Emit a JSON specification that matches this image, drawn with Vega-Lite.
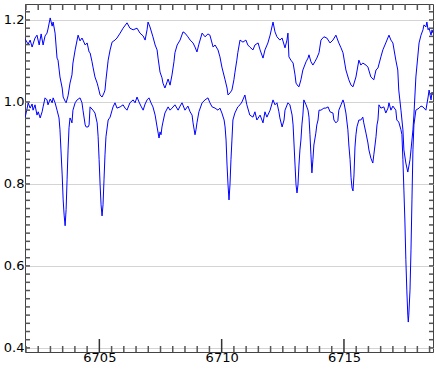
{
  "$schema": "https://vega.github.io/schema/vega-lite/v6.json",
  "width": 408,
  "height": 348,
  "autosize": {"type": "none"},
  "padding": {"left": 25, "top": 4, "right": 3, "bottom": 17},
  "background": "white",
  "config": {
    "view": {"stroke": "#444444", "strokeWidth": 1},
    "axis": {"labelFont": "DejaVu Sans", "labelFontSize": 13, "labelColor": "#000000", "domain": false, "title": null, "ticks": false, "labelFlush": false, "labelOverlap": false}
  },
  "datasets": {
    "xt": [
      {"wl": 6702, "kind": "minor"}, {"wl": 6702.5, "kind": "minor"}, {"wl": 6703, "kind": "minor"}, {"wl": 6703.5, "kind": "minor"},
      {"wl": 6704, "kind": "minor"}, {"wl": 6704.5, "kind": "minor"}, {"wl": 6705, "kind": "major"}, {"wl": 6705.5, "kind": "minor"},
      {"wl": 6706, "kind": "minor"}, {"wl": 6706.5, "kind": "minor"}, {"wl": 6707, "kind": "minor"}, {"wl": 6707.5, "kind": "minor"},
      {"wl": 6708, "kind": "minor"}, {"wl": 6708.5, "kind": "minor"}, {"wl": 6709, "kind": "minor"}, {"wl": 6709.5, "kind": "minor"},
      {"wl": 6710, "kind": "major"}, {"wl": 6710.5, "kind": "minor"}, {"wl": 6711, "kind": "minor"}, {"wl": 6711.5, "kind": "minor"},
      {"wl": 6712, "kind": "minor"}, {"wl": 6712.5, "kind": "minor"}, {"wl": 6713, "kind": "minor"}, {"wl": 6713.5, "kind": "minor"},
      {"wl": 6714, "kind": "minor"}, {"wl": 6714.5, "kind": "minor"}, {"wl": 6715, "kind": "major"}, {"wl": 6715.5, "kind": "minor"},
      {"wl": 6716, "kind": "minor"}, {"wl": 6716.5, "kind": "minor"}, {"wl": 6717, "kind": "minor"}, {"wl": 6717.5, "kind": "minor"},
      {"wl": 6718, "kind": "minor"}, {"wl": 6718.5, "kind": "minor"}
    ],
    "yt": [
      {"flux": 0.4}, {"flux": 0.42}, {"flux": 0.44}, {"flux": 0.46}, {"flux": 0.48}, {"flux": 0.5}, {"flux": 0.52}, {"flux": 0.54},
      {"flux": 0.56}, {"flux": 0.58}, {"flux": 0.6}, {"flux": 0.62}, {"flux": 0.64}, {"flux": 0.66}, {"flux": 0.68}, {"flux": 0.7},
      {"flux": 0.72}, {"flux": 0.74}, {"flux": 0.76}, {"flux": 0.78}, {"flux": 0.8}, {"flux": 0.82}, {"flux": 0.84}, {"flux": 0.86},
      {"flux": 0.88}, {"flux": 0.9}, {"flux": 0.92}, {"flux": 0.94}, {"flux": 0.96}, {"flux": 0.98}, {"flux": 1.0}, {"flux": 1.02},
      {"flux": 1.04}, {"flux": 1.06}, {"flux": 1.08}, {"flux": 1.1}, {"flux": 1.12}, {"flux": 1.14}, {"flux": 1.16}, {"flux": 1.18},
      {"flux": 1.2}, {"flux": 1.22}
    ],
    "upper": [
      {"wl": 6701.96, "flux": 1.154}, {"wl": 6702.09, "flux": 1.141}, {"wl": 6702.17, "flux": 1.151}, {"wl": 6702.25, "flux": 1.134},
      {"wl": 6702.37, "flux": 1.156}, {"wl": 6702.45, "flux": 1.163}, {"wl": 6702.54, "flux": 1.139}, {"wl": 6702.62, "flux": 1.166},
      {"wl": 6702.70, "flux": 1.139}, {"wl": 6702.78, "flux": 1.161}, {"wl": 6702.86, "flux": 1.168}, {"wl": 6702.90, "flux": 1.178},
      {"wl": 6702.99, "flux": 1.205}, {"wl": 6703.07, "flux": 1.185}, {"wl": 6703.11, "flux": 1.195}, {"wl": 6703.19, "flux": 1.168},
      {"wl": 6703.27, "flux": 1.107}, {"wl": 6703.31, "flux": 1.102}, {"wl": 6703.39, "flux": 1.061}, {"wl": 6703.48, "flux": 1.034},
      {"wl": 6703.52, "flux": 1.012}, {"wl": 6703.60, "flux": 1.002}, {"wl": 6703.64, "flux": 0.998}, {"wl": 6703.72, "flux": 1.015},
      {"wl": 6703.80, "flux": 1.046}, {"wl": 6703.88, "flux": 1.066}, {"wl": 6703.92, "flux": 1.095}, {"wl": 6704.01, "flux": 1.127},
      {"wl": 6704.09, "flux": 1.151}, {"wl": 6704.13, "flux": 1.163}, {"wl": 6704.21, "flux": 1.149}, {"wl": 6704.29, "flux": 1.156},
      {"wl": 6704.33, "flux": 1.151}, {"wl": 6704.42, "flux": 1.139}, {"wl": 6704.50, "flux": 1.144}, {"wl": 6704.58, "flux": 1.122},
      {"wl": 6704.62, "flux": 1.120}, {"wl": 6704.70, "flux": 1.098}, {"wl": 6704.74, "flux": 1.085}, {"wl": 6704.82, "flux": 1.061},
      {"wl": 6704.91, "flux": 1.046}, {"wl": 6704.95, "flux": 1.037}, {"wl": 6705.03, "flux": 1.017}, {"wl": 6705.11, "flux": 1.012},
      {"wl": 6705.19, "flux": 1.022}, {"wl": 6705.23, "flux": 1.029}, {"wl": 6705.27, "flux": 1.054}, {"wl": 6705.36, "flux": 1.102},
      {"wl": 6705.44, "flux": 1.127}, {"wl": 6705.52, "flux": 1.146}, {"wl": 6705.64, "flux": 1.151}, {"wl": 6705.72, "flux": 1.156},
      {"wl": 6705.85, "flux": 1.168}, {"wl": 6705.97, "flux": 1.180}, {"wl": 6706.13, "flux": 1.193}, {"wl": 6706.25, "flux": 1.180},
      {"wl": 6706.38, "flux": 1.176}, {"wl": 6706.54, "flux": 1.180}, {"wl": 6706.66, "flux": 1.168}, {"wl": 6706.79, "flux": 1.161},
      {"wl": 6706.87, "flux": 1.151}, {"wl": 6706.95, "flux": 1.176}, {"wl": 6706.99, "flux": 1.195}, {"wl": 6707.07, "flux": 1.183},
      {"wl": 6707.19, "flux": 1.159}, {"wl": 6707.28, "flux": 1.139}, {"wl": 6707.36, "flux": 1.127}, {"wl": 6707.40, "flux": 1.107},
      {"wl": 6707.48, "flux": 1.073}, {"wl": 6707.56, "flux": 1.059}, {"wl": 6707.60, "flux": 1.046}, {"wl": 6707.68, "flux": 1.034},
      {"wl": 6707.77, "flux": 1.049}, {"wl": 6707.81, "flux": 1.056}, {"wl": 6707.89, "flux": 1.041}, {"wl": 6707.97, "flux": 1.066},
      {"wl": 6708.05, "flux": 1.098}, {"wl": 6708.09, "flux": 1.120}, {"wl": 6708.18, "flux": 1.139}, {"wl": 6708.30, "flux": 1.151},
      {"wl": 6708.42, "flux": 1.171}, {"wl": 6708.50, "flux": 1.168}, {"wl": 6708.62, "flux": 1.159}, {"wl": 6708.71, "flux": 1.151},
      {"wl": 6708.83, "flux": 1.144}, {"wl": 6708.91, "flux": 1.134}, {"wl": 6708.99, "flux": 1.122}, {"wl": 6709.07, "flux": 1.141},
      {"wl": 6709.20, "flux": 1.168}, {"wl": 6709.32, "flux": 1.159}, {"wl": 6709.44, "flux": 1.166}, {"wl": 6709.52, "flux": 1.163},
      {"wl": 6709.65, "flux": 1.134}, {"wl": 6709.73, "flux": 1.139}, {"wl": 6709.85, "flux": 1.127}, {"wl": 6709.93, "flux": 1.110},
      {"wl": 6710.01, "flux": 1.085}, {"wl": 6710.14, "flux": 1.054}, {"wl": 6710.22, "flux": 1.034}, {"wl": 6710.26, "flux": 1.017},
      {"wl": 6710.34, "flux": 1.022}, {"wl": 6710.42, "flux": 1.029}, {"wl": 6710.50, "flux": 1.054}, {"wl": 6710.54, "flux": 1.071},
      {"wl": 6710.62, "flux": 1.102}, {"wl": 6710.66, "flux": 1.120}, {"wl": 6710.75, "flux": 1.151}, {"wl": 6710.87, "flux": 1.146},
      {"wl": 6710.99, "flux": 1.151}, {"wl": 6711.07, "flux": 1.139}, {"wl": 6711.15, "flux": 1.134}, {"wl": 6711.28, "flux": 1.127},
      {"wl": 6711.36, "flux": 1.139}, {"wl": 6711.49, "flux": 1.144}, {"wl": 6711.57, "flux": 1.127}, {"wl": 6711.69, "flux": 1.107},
      {"wl": 6711.77, "flux": 1.127}, {"wl": 6711.89, "flux": 1.144}, {"wl": 6711.98, "flux": 1.163}, {"wl": 6712.10, "flux": 1.195},
      {"wl": 6712.18, "flux": 1.171}, {"wl": 6712.26, "flux": 1.159}, {"wl": 6712.38, "flux": 1.151}, {"wl": 6712.47, "flux": 1.156},
      {"wl": 6712.59, "flux": 1.132}, {"wl": 6712.67, "flux": 1.151}, {"wl": 6712.71, "flux": 1.168}, {"wl": 6712.75, "flux": 1.110},
      {"wl": 6712.83, "flux": 1.102}, {"wl": 6712.92, "flux": 1.095}, {"wl": 6713.00, "flux": 1.066}, {"wl": 6713.04, "flux": 1.046},
      {"wl": 6713.12, "flux": 1.039}, {"wl": 6713.16, "flux": 1.037}, {"wl": 6713.24, "flux": 1.054}, {"wl": 6713.32, "flux": 1.078},
      {"wl": 6713.45, "flux": 1.098}, {"wl": 6713.53, "flux": 1.107}, {"wl": 6713.57, "flux": 1.115}, {"wl": 6713.65, "flux": 1.098},
      {"wl": 6713.73, "flux": 1.090}, {"wl": 6713.81, "flux": 1.098}, {"wl": 6713.89, "flux": 1.107}, {"wl": 6713.98, "flux": 1.120},
      {"wl": 6714.06, "flux": 1.151}, {"wl": 6714.18, "flux": 1.159}, {"wl": 6714.30, "flux": 1.156}, {"wl": 6714.43, "flux": 1.144},
      {"wl": 6714.55, "flux": 1.151}, {"wl": 6714.67, "flux": 1.163}, {"wl": 6714.79, "flux": 1.144}, {"wl": 6714.88, "flux": 1.132},
      {"wl": 6714.96, "flux": 1.120}, {"wl": 6715.08, "flux": 1.078}, {"wl": 6715.20, "flux": 1.054}, {"wl": 6715.29, "flux": 1.041},
      {"wl": 6715.37, "flux": 1.037}, {"wl": 6715.49, "flux": 1.061}, {"wl": 6715.61, "flux": 1.102}, {"wl": 6715.69, "flux": 1.090},
      {"wl": 6715.77, "flux": 1.095}, {"wl": 6715.90, "flux": 1.090}, {"wl": 6715.98, "flux": 1.085}, {"wl": 6716.10, "flux": 1.061},
      {"wl": 6716.22, "flux": 1.054}, {"wl": 6716.31, "flux": 1.078}, {"wl": 6716.39, "flux": 1.083}, {"wl": 6716.51, "flux": 1.110},
      {"wl": 6716.59, "flux": 1.127}, {"wl": 6716.71, "flux": 1.144}, {"wl": 6716.84, "flux": 1.163}, {"wl": 6716.92, "flux": 1.151},
      {"wl": 6717.00, "flux": 1.144}, {"wl": 6717.12, "flux": 1.102}, {"wl": 6717.20, "flux": 1.078}, {"wl": 6717.24, "flux": 1.029},
      {"wl": 6717.33, "flux": 0.980}, {"wl": 6717.41, "flux": 0.932}, {"wl": 6717.45, "flux": 0.883}, {"wl": 6717.53, "flux": 0.851},
      {"wl": 6717.61, "flux": 0.829}, {"wl": 6717.70, "flux": 0.859}, {"wl": 6717.74, "flux": 0.883}, {"wl": 6717.82, "flux": 0.932},
      {"wl": 6717.86, "flux": 0.968}, {"wl": 6717.94, "flux": 1.061}, {"wl": 6718.07, "flux": 1.144}, {"wl": 6718.15, "flux": 1.163},
      {"wl": 6718.23, "flux": 1.176}, {"wl": 6718.27, "flux": 1.188}, {"wl": 6718.35, "flux": 1.183}, {"wl": 6718.39, "flux": 1.195},
      {"wl": 6718.44, "flux": 1.176}, {"wl": 6718.48, "flux": 1.180}, {"wl": 6718.56, "flux": 1.163}, {"wl": 6718.60, "flux": 1.176},
      {"wl": 6718.64, "flux": 1.168}
    ],
    "lower": [
      {"wl": 6701.96, "flux": 0.961}, {"wl": 6702.05, "flux": 0.985}, {"wl": 6702.09, "flux": 0.998}, {"wl": 6702.17, "flux": 0.985},
      {"wl": 6702.25, "flux": 0.995}, {"wl": 6702.29, "flux": 0.980}, {"wl": 6702.37, "flux": 0.993}, {"wl": 6702.45, "flux": 0.968},
      {"wl": 6702.50, "flux": 0.976}, {"wl": 6702.58, "flux": 0.961}, {"wl": 6702.66, "flux": 0.976}, {"wl": 6702.70, "flux": 0.988},
      {"wl": 6702.78, "flux": 1.010}, {"wl": 6702.86, "flux": 1.005}, {"wl": 6702.90, "flux": 0.993}, {"wl": 6702.99, "flux": 1.007},
      {"wl": 6703.07, "flux": 0.998}, {"wl": 6703.11, "flux": 1.010}, {"wl": 6703.19, "flux": 0.998}, {"wl": 6703.27, "flux": 0.980},
      {"wl": 6703.35, "flux": 0.961}, {"wl": 6703.39, "flux": 0.932}, {"wl": 6703.43, "flux": 0.883}, {"wl": 6703.48, "flux": 0.822},
      {"wl": 6703.52, "flux": 0.761}, {"wl": 6703.56, "flux": 0.724}, {"wl": 6703.60, "flux": 0.698}, {"wl": 6703.64, "flux": 0.737},
      {"wl": 6703.68, "flux": 0.810}, {"wl": 6703.72, "flux": 0.883}, {"wl": 6703.76, "flux": 0.937}, {"wl": 6703.80, "flux": 0.961},
      {"wl": 6703.84, "flux": 0.956}, {"wl": 6703.88, "flux": 0.949}, {"wl": 6703.92, "flux": 0.980}, {"wl": 6704.01, "flux": 0.998},
      {"wl": 6704.09, "flux": 1.005}, {"wl": 6704.21, "flux": 1.010}, {"wl": 6704.29, "flux": 0.998}, {"wl": 6704.33, "flux": 0.980},
      {"wl": 6704.42, "flux": 0.944}, {"wl": 6704.46, "flux": 0.939}, {"wl": 6704.54, "flux": 0.939}, {"wl": 6704.58, "flux": 0.944},
      {"wl": 6704.62, "flux": 0.988}, {"wl": 6704.74, "flux": 0.980}, {"wl": 6704.82, "flux": 0.973}, {"wl": 6704.91, "flux": 0.949},
      {"wl": 6704.95, "flux": 0.915}, {"wl": 6704.99, "flux": 0.859}, {"wl": 6705.03, "flux": 0.798}, {"wl": 6705.07, "flux": 0.749},
      {"wl": 6705.11, "flux": 0.722}, {"wl": 6705.15, "flux": 0.749}, {"wl": 6705.19, "flux": 0.810}, {"wl": 6705.23, "flux": 0.871},
      {"wl": 6705.27, "flux": 0.915}, {"wl": 6705.36, "flux": 0.956}, {"wl": 6705.44, "flux": 0.963}, {"wl": 6705.52, "flux": 0.980},
      {"wl": 6705.56, "flux": 0.988}, {"wl": 6705.64, "flux": 0.998}, {"wl": 6705.72, "flux": 0.985}, {"wl": 6705.85, "flux": 0.988},
      {"wl": 6705.97, "flux": 0.993}, {"wl": 6706.05, "flux": 0.985}, {"wl": 6706.13, "flux": 0.980}, {"wl": 6706.25, "flux": 0.998},
      {"wl": 6706.38, "flux": 1.005}, {"wl": 6706.46, "flux": 0.998}, {"wl": 6706.54, "flux": 1.012}, {"wl": 6706.62, "flux": 1.000},
      {"wl": 6706.70, "flux": 0.990}, {"wl": 6706.79, "flux": 0.980}, {"wl": 6706.87, "flux": 0.995}, {"wl": 6706.95, "flux": 1.005},
      {"wl": 6707.03, "flux": 1.010}, {"wl": 6707.11, "flux": 0.998}, {"wl": 6707.19, "flux": 0.988}, {"wl": 6707.28, "flux": 0.968},
      {"wl": 6707.36, "flux": 0.939}, {"wl": 6707.44, "flux": 0.912}, {"wl": 6707.48, "flux": 0.927}, {"wl": 6707.52, "flux": 0.920},
      {"wl": 6707.56, "flux": 0.939}, {"wl": 6707.60, "flux": 0.951}, {"wl": 6707.68, "flux": 0.973}, {"wl": 6707.81, "flux": 0.988},
      {"wl": 6707.89, "flux": 0.980}, {"wl": 6707.97, "flux": 0.985}, {"wl": 6708.09, "flux": 0.993}, {"wl": 6708.22, "flux": 0.980},
      {"wl": 6708.30, "flux": 0.990}, {"wl": 6708.38, "flux": 0.998}, {"wl": 6708.50, "flux": 0.980}, {"wl": 6708.62, "flux": 0.990},
      {"wl": 6708.71, "flux": 0.976}, {"wl": 6708.79, "flux": 0.968}, {"wl": 6708.83, "flux": 0.949}, {"wl": 6708.91, "flux": 0.920},
      {"wl": 6708.95, "flux": 0.932}, {"wl": 6708.99, "flux": 0.949}, {"wl": 6709.07, "flux": 0.976}, {"wl": 6709.20, "flux": 0.998},
      {"wl": 6709.32, "flux": 1.005}, {"wl": 6709.44, "flux": 1.010}, {"wl": 6709.52, "flux": 0.998}, {"wl": 6709.61, "flux": 0.988},
      {"wl": 6709.73, "flux": 0.985}, {"wl": 6709.85, "flux": 0.980}, {"wl": 6709.93, "flux": 0.985}, {"wl": 6710.01, "flux": 0.973},
      {"wl": 6710.10, "flux": 0.956}, {"wl": 6710.14, "flux": 0.939}, {"wl": 6710.18, "flux": 0.907}, {"wl": 6710.22, "flux": 0.846},
      {"wl": 6710.26, "flux": 0.798}, {"wl": 6710.30, "flux": 0.761}, {"wl": 6710.34, "flux": 0.798}, {"wl": 6710.38, "flux": 0.859},
      {"wl": 6710.42, "flux": 0.907}, {"wl": 6710.46, "flux": 0.956}, {"wl": 6710.54, "flux": 0.973}, {"wl": 6710.66, "flux": 0.988},
      {"wl": 6710.75, "flux": 0.993}, {"wl": 6710.83, "flux": 1.000}, {"wl": 6710.95, "flux": 1.017}, {"wl": 6711.03, "flux": 0.993},
      {"wl": 6711.15, "flux": 0.968}, {"wl": 6711.28, "flux": 0.963}, {"wl": 6711.36, "flux": 0.976}, {"wl": 6711.44, "flux": 0.956},
      {"wl": 6711.57, "flux": 0.968}, {"wl": 6711.69, "flux": 0.949}, {"wl": 6711.77, "flux": 0.976}, {"wl": 6711.85, "flux": 0.963},
      {"wl": 6711.98, "flux": 0.980}, {"wl": 6712.10, "flux": 1.005}, {"wl": 6712.18, "flux": 0.993}, {"wl": 6712.26, "flux": 0.998},
      {"wl": 6712.34, "flux": 0.976}, {"wl": 6712.38, "flux": 0.961}, {"wl": 6712.47, "flux": 0.939}, {"wl": 6712.55, "flux": 0.956},
      {"wl": 6712.59, "flux": 0.980}, {"wl": 6712.71, "flux": 0.998}, {"wl": 6712.79, "flux": 0.993}, {"wl": 6712.88, "flux": 0.968},
      {"wl": 6712.92, "flux": 0.944}, {"wl": 6712.96, "flux": 0.895}, {"wl": 6713.00, "flux": 0.846}, {"wl": 6713.04, "flux": 0.798},
      {"wl": 6713.08, "flux": 0.778}, {"wl": 6713.12, "flux": 0.798}, {"wl": 6713.16, "flux": 0.846}, {"wl": 6713.20, "flux": 0.883},
      {"wl": 6713.24, "flux": 0.907}, {"wl": 6713.28, "flux": 0.944}, {"wl": 6713.32, "flux": 0.968}, {"wl": 6713.36, "flux": 1.005},
      {"wl": 6713.45, "flux": 0.993}, {"wl": 6713.53, "flux": 0.980}, {"wl": 6713.57, "flux": 0.963}, {"wl": 6713.61, "flux": 0.920},
      {"wl": 6713.65, "flux": 0.871}, {"wl": 6713.69, "flux": 0.827}, {"wl": 6713.73, "flux": 0.859}, {"wl": 6713.77, "flux": 0.895},
      {"wl": 6713.85, "flux": 0.924}, {"wl": 6713.89, "flux": 0.944}, {"wl": 6713.94, "flux": 0.956}, {"wl": 6713.98, "flux": 0.980},
      {"wl": 6714.06, "flux": 0.980}, {"wl": 6714.18, "flux": 0.985}, {"wl": 6714.26, "flux": 0.985}, {"wl": 6714.35, "flux": 0.988},
      {"wl": 6714.43, "flux": 0.976}, {"wl": 6714.55, "flux": 0.973}, {"wl": 6714.59, "flux": 0.956}, {"wl": 6714.67, "flux": 0.949},
      {"wl": 6714.75, "flux": 0.954}, {"wl": 6714.79, "flux": 0.980}, {"wl": 6714.88, "flux": 0.993}, {"wl": 6714.96, "flux": 1.005},
      {"wl": 6715.00, "flux": 0.998}, {"wl": 6715.08, "flux": 0.973}, {"wl": 6715.16, "flux": 0.932}, {"wl": 6715.20, "flux": 0.895},
      {"wl": 6715.25, "flux": 0.859}, {"wl": 6715.29, "flux": 0.815}, {"wl": 6715.33, "flux": 0.790}, {"wl": 6715.37, "flux": 0.783},
      {"wl": 6715.41, "flux": 0.822}, {"wl": 6715.45, "flux": 0.890}, {"wl": 6715.49, "flux": 0.920}, {"wl": 6715.53, "flux": 0.939},
      {"wl": 6715.61, "flux": 0.956}, {"wl": 6715.69, "flux": 0.956}, {"wl": 6715.77, "flux": 0.963}, {"wl": 6715.81, "flux": 0.949},
      {"wl": 6715.90, "flux": 0.924}, {"wl": 6715.98, "flux": 0.900}, {"wl": 6716.02, "flux": 0.883}, {"wl": 6716.10, "flux": 0.863},
      {"wl": 6716.18, "flux": 0.851}, {"wl": 6716.22, "flux": 0.871}, {"wl": 6716.27, "flux": 0.895}, {"wl": 6716.31, "flux": 0.915},
      {"wl": 6716.35, "flux": 0.944}, {"wl": 6716.39, "flux": 0.956}, {"wl": 6716.43, "flux": 0.993}, {"wl": 6716.51, "flux": 0.985},
      {"wl": 6716.63, "flux": 0.988}, {"wl": 6716.71, "flux": 0.973}, {"wl": 6716.80, "flux": 0.985}, {"wl": 6716.84, "flux": 0.998},
      {"wl": 6716.92, "flux": 0.980}, {"wl": 6717.00, "flux": 0.990}, {"wl": 6717.12, "flux": 0.980}, {"wl": 6717.16, "flux": 0.956},
      {"wl": 6717.24, "flux": 0.951}, {"wl": 6717.33, "flux": 0.932}, {"wl": 6717.37, "flux": 0.920}, {"wl": 6717.41, "flux": 0.859},
      {"wl": 6717.45, "flux": 0.785}, {"wl": 6717.49, "flux": 0.712}, {"wl": 6717.53, "flux": 0.615}, {"wl": 6717.57, "flux": 0.541},
      {"wl": 6717.61, "flux": 0.480}, {"wl": 6717.63, "flux": 0.463}, {"wl": 6717.65, "flux": 0.480}, {"wl": 6717.70, "flux": 0.541},
      {"wl": 6717.74, "flux": 0.639}, {"wl": 6717.78, "flux": 0.761}, {"wl": 6717.82, "flux": 0.883}, {"wl": 6717.86, "flux": 0.944},
      {"wl": 6717.94, "flux": 0.980}, {"wl": 6718.07, "flux": 0.985}, {"wl": 6718.15, "flux": 0.990}, {"wl": 6718.23, "flux": 0.988},
      {"wl": 6718.35, "flux": 0.980}, {"wl": 6718.44, "flux": 1.012}, {"wl": 6718.48, "flux": 1.029}, {"wl": 6718.52, "flux": 1.017},
      {"wl": 6718.56, "flux": 1.005}, {"wl": 6718.60, "flux": 1.024}, {"wl": 6718.64, "flux": 1.017}
    ]
  },
  "layer": [
    {
      "data": {"name": "upper"},
      "mark": {"type": "line", "color": "#0000ff", "strokeWidth": 1, "clip": true},
      "encoding": {
        "x": {
          "field": "wl", "type": "quantitative",
          "scale": {"domain": [6701.96, 6718.64], "nice": false, "zero": false},
          "axis": {"orient": "bottom", "values": [6705, 6710, 6715], "format": "d", "labelPadding": -1, "grid": false}
        },
        "y": {
          "field": "flux", "type": "quantitative",
          "scale": {"domain": [0.39, 1.239], "nice": false, "zero": false},
          "axis": {"orient": "left", "values": [0.4, 0.6, 0.8, 1.0, 1.2], "format": ".1f", "labelPadding": 1, "grid": true, "gridColor": "#d4d4d4", "gridWidth": 1}
        }
      }
    },
    {
      "data": {"name": "lower"},
      "mark": {"type": "line", "color": "#0000ff", "strokeWidth": 1, "clip": true},
      "encoding": {
        "x": {"field": "wl", "type": "quantitative"},
        "y": {"field": "flux", "type": "quantitative"}
      }
    },
    {
      "data": {"name": "xt"},
      "transform": [{"filter": "datum.kind === 'minor'"}],
      "mark": {"type": "rule", "color": "#555555", "strokeWidth": 1.5},
      "encoding": {
        "x": {"field": "wl", "type": "quantitative"},
        "y": {"datum": 0.39, "type": "quantitative"},
        "y2": {"datum": 0.4046}
      }
    },
    {
      "data": {"name": "xt"},
      "transform": [{"filter": "datum.kind === 'major'"}],
      "mark": {"type": "rule", "color": "#333333", "strokeWidth": 1.5},
      "encoding": {
        "x": {"field": "wl", "type": "quantitative"},
        "y": {"datum": 0.39, "type": "quantitative"},
        "y2": {"datum": 0.4217}
      }
    },
    {
      "data": {"name": "xt"},
      "mark": {"type": "rule", "color": "#555555", "strokeWidth": 1.5},
      "encoding": {
        "x": {"field": "wl", "type": "quantitative"},
        "y": {"datum": 1.239, "type": "quantitative"},
        "y2": {"datum": 1.2244}
      }
    },
    {
      "data": {"name": "yt"},
      "mark": {"type": "rule", "color": "#555555", "strokeWidth": 1.5},
      "encoding": {
        "x": {"datum": 6701.96, "type": "quantitative"},
        "x2": {"datum": 6702.164},
        "y": {"field": "flux", "type": "quantitative"}
      }
    },
    {
      "data": {"name": "yt"},
      "mark": {"type": "rule", "color": "#555555", "strokeWidth": 1.5},
      "encoding": {
        "x": {"datum": 6718.64, "type": "quantitative"},
        "x2": {"datum": 6718.476},
        "y": {"field": "flux", "type": "quantitative"}
      }
    }
  ]
}
